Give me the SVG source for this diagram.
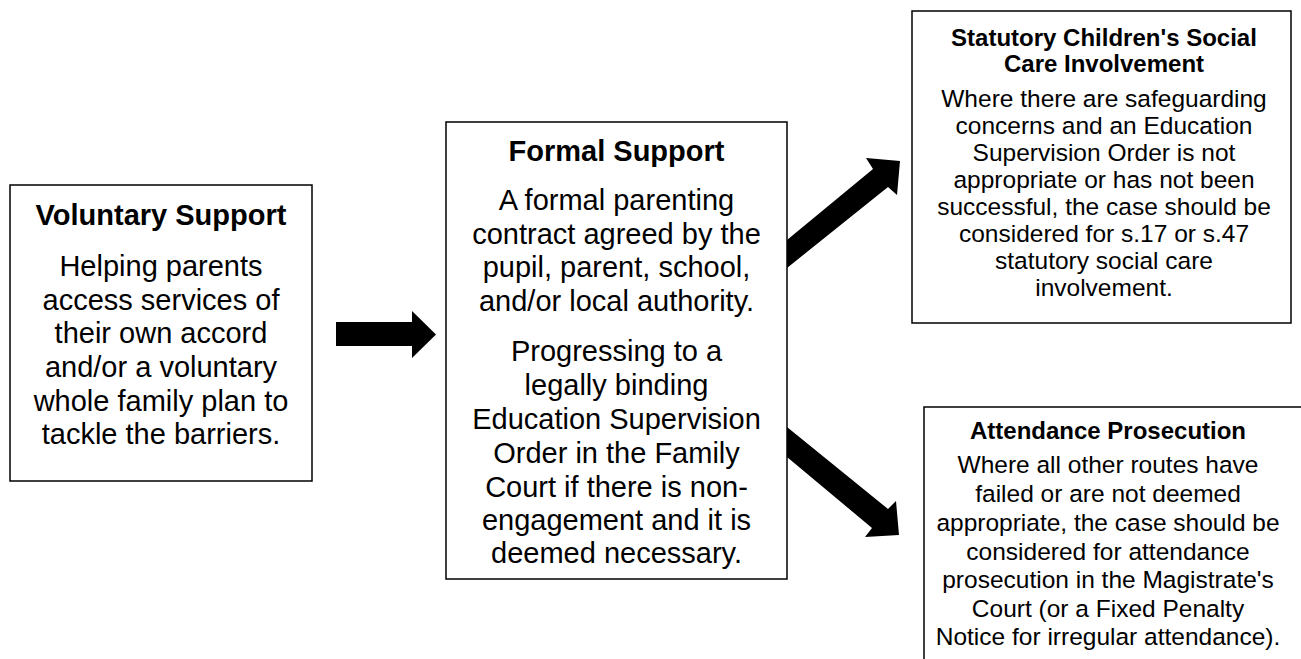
<svg xmlns="http://www.w3.org/2000/svg" width="1301" height="659" viewBox="0 0 1301 659">
<style>
.box{fill:#fff;stroke:#000;stroke-width:1.5}
text{font-family:"Liberation Sans",Arial,sans-serif;fill:#000;text-anchor:middle}
.tl{font-weight:bold;font-size:29px}
.bl{font-size:29px}
.tr{font-weight:bold;font-size:24px}
.br{font-size:24.5px}
.arrow{fill:#000}
</style>
<rect width="1301" height="659" fill="#fff"/>
<g id="connectors">
<polygon class="arrow" points="336,322 412,322 412,311 436,334.5 412,358 412,346 336,346"/>
<polygon class="arrow" points="787,240 873,169 866,158 900,161 897,195 888,187 787,268"/>
<polygon class="arrow" points="787,427 888,509 896,501 899,535 865,537 872,528 787,457"/>
</g>
<g id="voluntary">
<rect class="box" x="10" y="185" width="302" height="296"/>
<text class="tl" x="161" y="225">Voluntary Support</text>
<text class="bl" x="161" y="276">Helping parents</text>
<text class="bl" x="161" y="310">access services of</text>
<text class="bl" x="161" y="343">their own accord</text>
<text class="bl" x="161" y="377">and/or a voluntary</text>
<text class="bl" x="161" y="411">whole family plan to</text>
<text class="bl" x="161" y="444">tackle the barriers.</text>
</g>
<g id="formal">
<rect class="box" x="446" y="122" width="341" height="457"/>
<text class="tl" x="616.5" y="161">Formal Support</text>
<text class="bl" x="616.5" y="210">A formal parenting</text>
<text class="bl" x="616.5" y="244">contract agreed by the</text>
<text class="bl" x="616.5" y="277">pupil, parent, school,</text>
<text class="bl" x="616.5" y="311">and/or local authority.</text>
<text class="bl" x="616.5" y="361">Progressing to a</text>
<text class="bl" x="616.5" y="395">legally binding</text>
<text class="bl" x="616.5" y="429">Education Supervision</text>
<text class="bl" x="616.5" y="463">Order in the Family</text>
<text class="bl" x="616.5" y="497">Court if there is non-</text>
<text class="bl" x="616.5" y="530">engagement and it is</text>
<text class="bl" x="616.5" y="563">deemed necessary.</text>
</g>
<g id="statutory">
<rect class="box" x="912" y="11" width="379" height="312"/>
<text class="tr" x="1104" y="46">Statutory Children's Social</text>
<text class="tr" x="1104" y="72">Care Involvement</text>
<text class="br" x="1104" y="107">Where there are safeguarding</text>
<text class="br" x="1104" y="134">concerns and an Education</text>
<text class="br" x="1104" y="161">Supervision Order is not</text>
<text class="br" x="1104" y="188">appropriate or has not been</text>
<text class="br" x="1104" y="215">successful, the case should be</text>
<text class="br" x="1104" y="242">considered for s.17 or s.47</text>
<text class="br" x="1104" y="269">statutory social care</text>
<text class="br" x="1104" y="296">involvement.</text>
</g>
<g id="attendance">
<rect class="box" x="924" y="407" width="390" height="270"/>
<text class="tr" x="1108" y="439">Attendance Prosecution</text>
<text class="br" x="1108" y="473">Where all other routes have</text>
<text class="br" x="1108" y="502">failed or are not deemed</text>
<text class="br" x="1108" y="531">appropriate, the case should be</text>
<text class="br" x="1108" y="559.5">considered for attendance</text>
<text class="br" x="1108" y="588">prosecution in the Magistrate's</text>
<text class="br" x="1108" y="616.5">Court (or a Fixed Penalty</text>
<text class="br" x="1108" y="645">Notice for irregular attendance).</text>
</g>
</svg>
